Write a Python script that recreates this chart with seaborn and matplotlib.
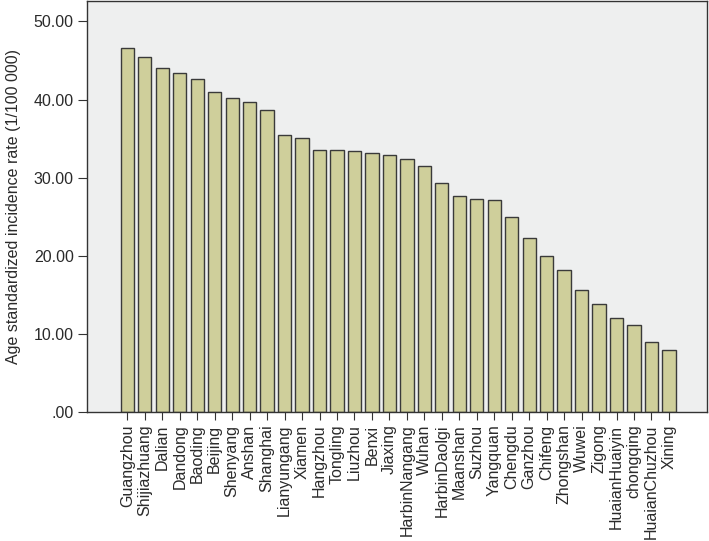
import matplotlib
matplotlib.use("Agg")
import matplotlib.pyplot as plt
import seaborn as sns
import pandas as pd

cities = ["Guangzhou", "Shijiazhuang", "Dalian", "Dandong", "Baoding", "Beijing",
          "Shenyang", "Anshan", "Shanghai", "Lianyungang", "Xiamen", "Hangzhou",
          "Tongling", "Liuzhou", "Benxi", "Jiaxing", "HarbinNangang", "Wuhan",
          "HarbinDaolgi", "Maanshan", "Suzhou", "Yangquan", "Chengdu", "Ganzhou",
          "Chifeng", "Zhongshan", "Wuwei", "Zigong", "HuaianHuaiyin", "chongqing",
          "HuaianChuzhou", "Xining"]
rates = [46.6, 45.5, 44.0, 43.4, 42.6, 41.0, 40.2, 39.7, 38.7, 35.5, 35.1, 33.6,
         33.5, 33.4, 33.2, 32.9, 32.4, 31.5, 29.3, 27.7, 27.3, 27.2, 25.0, 22.3,
         20.0, 18.2, 15.6, 13.8, 12.1, 11.2, 9.0, 7.9]
yticks = [0, 10, 20, 30, 40, 50]
ytick_labels = [".00", "10.00", "20.00", "30.00", "40.00", "50.00"]

df = pd.DataFrame({"city": cities, "rate": rates})

sns.set_style("ticks")
plt.rcParams["font.family"] = ["Liberation Sans", "DejaVu Sans"]

fig = plt.figure(figsize=(7.09, 5.41), dpi=100)
ax = fig.add_axes([0.1227, 0.2384, 0.8745, 0.7595])
ax.set_facecolor("#EEEFEF")

sns.barplot(data=df, x="city", y="rate", color="#CFCF9B", edgecolor="#3A3A3A",
            linewidth=1.0, width=0.76, saturation=1, ax=ax)

ax.set_ylim(0, 52.6)
ax.set_xlim(-2.31, 33.18)
ax.set_yticks(yticks)
ax.set_yticklabels(ytick_labels, fontsize=11.5, color="#2A2A2A")
ax.tick_params(axis="x", labelrotation=90, labelsize=11.5, length=6, width=0.8,
               pad=3, color="#333333", labelcolor="#2A2A2A")
ax.tick_params(axis="y", length=6.5, width=0.8, pad=3, color="#333333")
ax.set_xlabel("")
ax.set_ylabel("Age standardized incidence rate (1/100 000)", fontsize=11.5,
              color="#2A2A2A", labelpad=9)
for s in ax.spines.values():
    s.set_visible(True)
    s.set_color("#333333")
    s.set_linewidth(1.0)

fig.savefig("out.png", dpi=100, facecolor="white")
